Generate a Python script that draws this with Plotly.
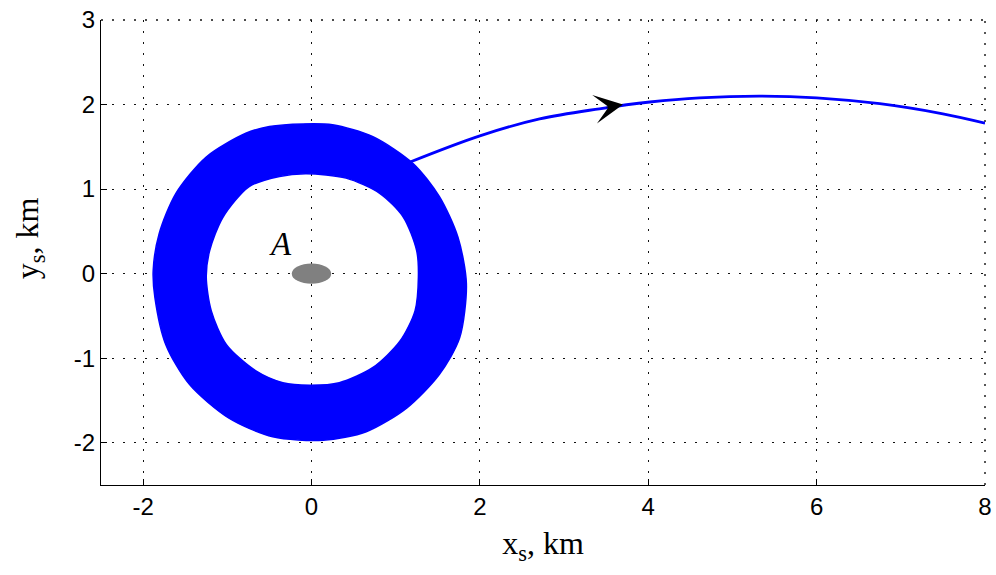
import plotly.graph_objects as go

# Outer boundary of the dense orbit band, clockwise from top
outer_x = [-0.10, 0.25, 0.73, 1.21, 1.52, 1.74, 1.84, 1.76, 1.52, 1.13, 0.65, 0.14,
           -0.46, -0.98, -1.45, -1.73, -1.86, -1.88, -1.81, -1.61, -1.25, -0.78, -0.50]
outer_y = [1.77, 1.76, 1.62, 1.30, 0.91, 0.43, -0.12, -0.76, -1.19, -1.59, -1.87, -1.97,
           -1.93, -1.71, -1.31, -0.84, -0.28, 0.04, 0.47, 0.95, 1.38, 1.66, 1.74]
# Inner boundary of the band, clockwise from top
inner_x = [-0.06, 0.41, 0.81, 1.09, 1.25, 1.27, 1.23, 1.05, 0.73, 0.33, -0.02,
           -0.34, -0.66, -1.01, -1.19, -1.25, -1.21, -1.05, -0.74, -0.38]
inner_y = [1.18, 1.13, 0.95, 0.67, 0.27, -0.04, -0.44, -0.80, -1.11, -1.29, -1.32,
           -1.29, -1.15, -0.84, -0.44, -0.04, 0.27, 0.67, 1.03, 1.15]

# Escape trajectory
traj_x = [1.05, 1.17, 2.00, 2.71, 3.42, 4.02, 4.61, 5.33, 6.00, 6.75, 7.50, 8.00]
traj_y = [1.27, 1.32, 1.63, 1.83, 1.95, 2.03, 2.08, 2.10, 2.08, 2.01, 1.89, 1.78]

# Direction arrow on trajectory (tip)
arrow_x, arrow_y = 3.70, 2.00

# Body A
A_cx, A_cy, A_rx, A_ry = 0.0, 0.0, 0.234, 0.12
A_label_x, A_label_y = -0.37, 0.345

x_ticks = [-2, 0, 2, 4, 6, 8]
x_tick_text = ["-2", "0", "2", "4", "6", "8"]
y_ticks = [-2, -1, 0, 1, 2, 3]
y_tick_text = ["-2", "-1", "0", "1", "2", "3"]

BLUE = "#0000FF"
GRID = "#111111"
DASH = "2px,9px"

fig = go.Figure()
fig.add_trace(go.Scatter(
    x=outer_x + [outer_x[0]], y=outer_y + [outer_y[0]], mode="lines",
    line=dict(color=BLUE, width=1.5, shape="spline", smoothing=0.8),
    hoverinfo="skip", showlegend=False))
fig.add_trace(go.Scatter(
    x=inner_x + [inner_x[0]], y=inner_y + [inner_y[0]], mode="lines",
    fill="tonext", fillcolor=BLUE,
    line=dict(color=BLUE, width=1.5, shape="spline", smoothing=0.8),
    hoverinfo="skip", showlegend=False))
fig.add_trace(go.Scatter(
    x=traj_x, y=traj_y, mode="lines",
    line=dict(color=BLUE, width=2.8, shape="spline", smoothing=1.0),
    hoverinfo="skip", showlegend=False))

fig.add_annotation(x=arrow_x, y=arrow_y, xref="x", yref="y", text="",
                   showarrow=True, arrowhead=3, arrowsize=4.8, arrowwidth=1,
                   arrowcolor="black", ax=-18, ay=3, standoff=0)

fig.add_shape(type="circle", xref="x", yref="y",
              x0=A_cx - A_rx, x1=A_cx + A_rx, y0=A_cy - A_ry, y1=A_cy + A_ry,
              fillcolor="#808080", line=dict(width=0))
fig.add_annotation(x=A_label_x, y=A_label_y, xref="x", yref="y", text="<i>A</i>",
                   showarrow=False, font=dict(family="Liberation Serif", size=33, color="black"))

# dotted frame on top and right (grid lines at the range edges)
fig.add_shape(type="line", xref="paper", yref="paper", x0=0, x1=1, y0=1, y1=1,
              line=dict(color=GRID, width=1.4, dash=DASH), layer="below")
fig.add_shape(type="line", xref="paper", yref="paper", x0=1, x1=1, y0=0, y1=1,
              line=dict(color=GRID, width=1.4, dash=DASH), layer="below")

axis_common = dict(
    showline=True, linecolor="black", linewidth=1.2,
    ticks="inside", ticklen=6, tickcolor="black", tickwidth=1,
    showgrid=True, gridcolor=GRID, gridwidth=1.4, griddash=DASH,
    zeroline=False, automargin=False,
    tickfont=dict(family="Liberation Sans", size=24, color="black"),
)
fig.update_xaxes(range=[-2.5, 8.0], tickvals=x_ticks, ticktext=x_tick_text, **axis_common,
                 title=dict(text="x<sub>s</sub>, km", standoff=12,
                            font=dict(family="Liberation Serif", size=32, color="black")))
fig.update_yaxes(range=[-2.5, 3.0], tickvals=y_ticks, ticktext=y_tick_text, **axis_common)

fig.add_annotation(text="y<sub>s</sub>, km", xref="paper", yref="paper",
                   x=-0.0814, y=0.531, xanchor="center", yanchor="middle",
                   textangle=-90, showarrow=False,
                   font=dict(family="Liberation Serif", size=32, color="black"))

fig.update_layout(width=996, height=575, margin=dict(l=101, r=11, t=20, b=90),
                  plot_bgcolor="white", paper_bgcolor="white")

fig.write_html("out.html")
